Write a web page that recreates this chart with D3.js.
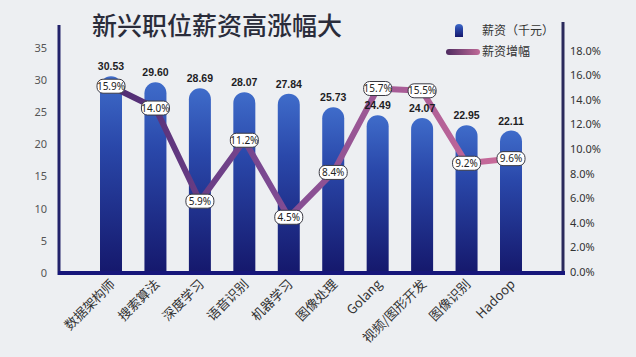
<!DOCTYPE html>
<html><head><meta charset="utf-8">
<script src="https://cdn.jsdelivr.net/npm/d3@7/dist/d3.min.js"></script>
<style>
html,body{margin:0;padding:0;background:#edeff2;}
svg{display:block;font-family:"Noto Sans CJK SC","Noto Sans",sans-serif;}
</style></head>
<body><svg id="c" width="636" height="357"></svg>
<script>
const categories = ["数据架构师","搜索算法","深度学习","语音识别","机器学习","图像处理","Golang","视频/图形开发","图像识别","Hadoop"];
const salary = [30.53,29.60,28.69,28.07,27.84,25.73,24.49,24.07,22.95,22.11];
const growth = [15.9,14.0,5.9,11.2,4.5,8.4,15.7,15.5,9.2,9.6];
const leftTicks = [0,5,10,15,20,25,30,35];
const rightTicks = [0,2,4,6,8,10,12,14,16,18];
const titleText = "新兴职位薪资高涨幅大";
const legendLabels = ["薪资（千元）","薪资增幅"];

const svg = d3.select("#c");
const W = 636, H = 357;
const plotL = 59, plotR = 563, plotB = 273;

svg.append("rect").attr("width",W).attr("height",H).attr("fill","#edeff2");

const defs = svg.append("defs");
const bg = defs.append("linearGradient").attr("id","barGrad").attr("x1",0).attr("y1",0).attr("x2",0).attr("y2",1);
bg.append("stop").attr("offset","0%").attr("stop-color","#3f6cca");
bg.append("stop").attr("offset","35%").attr("stop-color","#2a48aa");
bg.append("stop").attr("offset","100%").attr("stop-color","#15186c");

const x = d3.scalePoint().domain(categories).range([plotL, plotR]).padding(1.17);
const y = d3.scaleLinear().domain([0,35]).range([plotB, 47.5]);
// right axis tick positions
const y2 = d3.scaleLinear().domain([0,18]).range([plotB - 1, 50.5]);
// the growth line as drawn in the reference (its points sit slightly lower than the axis ticks)
const yLine = d3.scaleLinear().domain([0,19.05]).range([269, 50]);

const lg = defs.append("linearGradient").attr("id","lineGrad").attr("gradientUnits","userSpaceOnUse")
  .attr("x1", x(categories[0])).attr("x2", x(categories[categories.length-1])).attr("y1",0).attr("y2",0);
lg.append("stop").attr("offset","0%").attr("stop-color","#4e2b72");
lg.append("stop").attr("offset","40%").attr("stop-color","#7d4a92");
lg.append("stop").attr("offset","100%").attr("stop-color","#cc6c9a");

// title
svg.append("text").attr("x",92).attr("y",35).attr("font-size",25).attr("font-weight",500)
  .attr("fill","#2a2c3a").text(titleText);

// left axis labels
const leftAxis = d3.axisLeft(y).tickValues(leftTicks).tickSize(0).tickPadding(12);
const la = svg.append("g").attr("transform",`translate(${plotL},0)`).call(leftAxis);
la.select(".domain").remove();
la.selectAll("text").attr("font-size",11).attr("fill","#555").attr("font-family","Noto Sans, sans-serif");

// right axis labels
const rightAxis = d3.axisRight(y2).tickValues(rightTicks).tickSize(0).tickPadding(7).tickFormat(d => d3.format(".1f")(d) + "%");
const ra = svg.append("g").attr("transform",`translate(${plotR},0)`).call(rightAxis);
ra.select(".domain").remove();
ra.selectAll("text").attr("font-size",11).attr("fill","#333").attr("font-family","Noto Sans, sans-serif");

// bars (rounded top)
const bw = 22;
function barPath(cx, top, bottom){
  const r = bw/2;
  const l = cx - r, rr = cx + r;
  const t = Math.min(top + r, bottom);
  return `M${l},${bottom}L${l},${t}A${r},${r} 0 0 1 ${rr},${t}L${rr},${bottom}Z`;
}
svg.append("g").selectAll("path").data(categories).join("path")
  .attr("d",(c,i)=>barPath(x(c), y(salary[i]), plotB))
  .attr("fill","url(#barGrad)");

// axis lines
svg.append("line").attr("x1",plotL).attr("x2",plotL).attr("y1",25).attr("y2",plotB+2)
  .attr("stroke","#22226a").attr("stroke-width",3);
svg.append("line").attr("x1",plotR).attr("x2",plotR).attr("y1",22).attr("y2",plotB+2)
  .attr("stroke","#2b2a5c").attr("stroke-width",3);
svg.append("line").attr("x1",plotL-1).attr("x2",plotR+2).attr("y1",plotB).attr("y2",plotB)
  .attr("stroke","#16167a").attr("stroke-width",4);

// growth line
const line = d3.line().x((c)=>x(c)).y((c,i)=>yLine(growth[i]));
svg.append("path").datum(categories).attr("d",line).attr("fill","none")
  .attr("stroke","url(#lineGrad)").attr("stroke-width",6).attr("stroke-linejoin","round");

// bar value labels (drawn above the line)
svg.append("g").selectAll("text").data(categories).join("text")
  .attr("x",c=>x(c)).attr("y",(c,i)=>y(salary[i]) - 6)
  .attr("text-anchor","middle").attr("font-size",10.5).attr("font-weight","bold")
  .attr("font-family","Liberation Sans, sans-serif").attr("fill","#1d1d24")
  .text((c,i)=>d3.format(".2f")(salary[i]));

// growth labels
const gl = svg.append("g").selectAll("g").data(categories).join("g")
  .attr("transform",(c,i)=>`translate(${x(c)},${yLine(growth[i])})`);
gl.append("rect").attr("x",-14).attr("y",-7).attr("width",28).attr("height",14).attr("rx",6)
  .attr("fill","#ffffff").attr("stroke","#3a3a44").attr("stroke-width",1);
gl.append("text").attr("text-anchor","middle").attr("dy","0.35em").attr("font-size",10)
  .attr("font-family","Noto Sans, sans-serif").attr("fill","#222")
  .text((c,i)=>d3.format(".1f")(growth[i]) + "%");

// x labels
svg.append("g").selectAll("text").data(categories).join("text")
  .attr("transform",c=>`translate(${x(c)+5},${plotB+12}) rotate(-45)`)
  .attr("text-anchor","end").attr("font-size",13).attr("fill","#333")
  .text(c=>c);

// legend
const leg = svg.append("g");
leg.append("path").attr("d","M455,37L455,28A4,4 0 0 1 463,28L463,37Z").attr("fill","url(#barGrad)");
leg.append("text").attr("x",482).attr("y",31).attr("dy","0.35em").attr("font-size",12).attr("fill","#333").text(legendLabels[0]);
const lg2 = defs.append("linearGradient").attr("id","legLine").attr("x1",0).attr("x2",1).attr("y1",0).attr("y2",0);
lg2.append("stop").attr("offset","0%").attr("stop-color","#4e2b60");
lg2.append("stop").attr("offset","100%").attr("stop-color","#c06a98");
leg.append("rect").attr("x",446).attr("y",49).attr("width",34).attr("height",6).attr("rx",3).attr("fill","url(#legLine)");
leg.append("text").attr("x",482).attr("y",52).attr("dy","0.35em").attr("font-size",12).attr("fill","#333").text(legendLabels[1]);
</script>
</body></html>
